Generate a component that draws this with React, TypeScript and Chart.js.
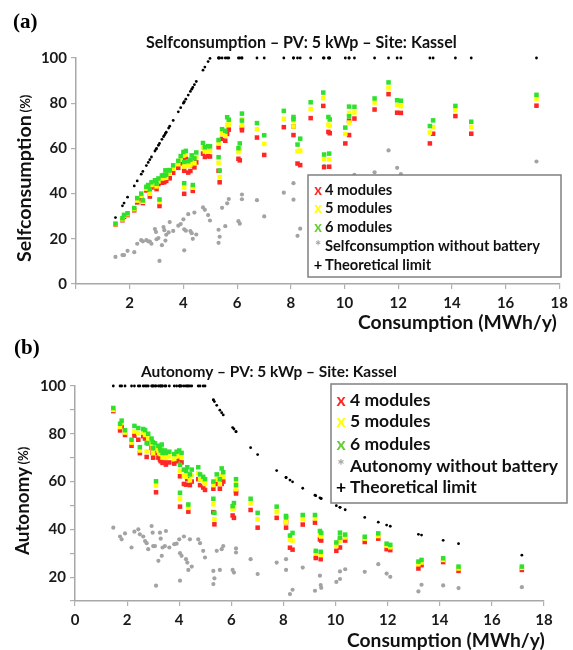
import React, { useEffect, useRef } from 'react';
import { Chart, registerables } from 'chart.js';

Chart.register(...registerables);

// ---------- DATA (one entry per household) ----------
const consumption = [
  1.47, 1.73, 1.79, 1.92, 2.17, 2.28, 2.43, 2.49, 2.62, 2.69,
  2.75, 2.81, 2.94, 2.98, 3.0, 3.07, 3.11, 3.2, 3.26, 3.29,
  3.33, 3.36, 3.45, 3.49, 3.62, 3.81, 3.9, 4.0, 4.03, 4.03,
  4.09, 4.18, 4.26, 4.31, 4.35, 4.41, 4.48, 4.73, 4.8, 4.92,
  4.99, 5.31, 5.35, 5.31, 5.44, 5.56, 5.63, 5.69, 6.05, 6.1,
  6.18, 6.18, 6.74, 7.01, 7.74, 8.1, 8.1, 8.25, 8.35, 8.74,
  9.21, 9.24, 9.4, 9.43, 9.45, 10.03, 10.17, 10.17, 10.37, 11.12,
  11.64, 11.96, 12.1, 13.18, 13.3, 14.13, 14.72, 17.15,
];

// Self-consumption (%)
const sc4 = [
  26.3, 28.2, 29.7, 30.5, 32.6, 36.1, 37.7, 35.8, 41.4, 42.0,
  38.7, 42.7, 43.5, 42.9, 42.0, 44.2, 34.5, 44.8, 45.1, 45.1,
  47.3, 45.6, 46.9, 46.8, 49.2, 51.4, 53.4, 55.6, 39.9, 50.1,
  55.6, 49.3, 50.0, 52.6, 41.2, 51.6, 53.8, 57.7, 56.2, 56.6,
  56.4, 50.1, 45.0, 60.5, 64.2, 63.4, 66.4, 68.3, 55.4, 54.7,
  69.2, 68.0, 64.8, 57.1, 69.4, 69.7, 65.9, 53.3, 52.6, 73.4,
  78.8, 51.7, 67.3, 51.9, 66.7, 62.2, 65.9, 72.2, 73.2, 77.2,
  84.0, 75.8, 75.7, 62.2, 66.5, 74.3, 66.5, 78.9,
];
const sc5 = [
  26.5, 28.6, 30.3, 30.9, 33.1, 36.9, 39.0, 36.4, 42.2, 42.8,
  39.9, 43.8, 44.7, 44.1, 43.2, 45.4, 36.3, 46.7, 46.9, 47.0,
  49.0, 47.0, 49.0, 48.9, 51.0, 53.0, 55.0, 56.8, 42.6, 52.0,
  57.3, 52.3, 52.8, 54.7, 42.6, 53.4, 56.0, 60.1, 58.6, 59.0,
  58.9, 53.6, 47.3, 62.1, 66.4, 65.6, 70.4, 70.6, 58.4, 59.8,
  72.9, 70.2, 68.5, 62.0, 73.1, 72.3, 69.7, 58.7, 59.0, 77.4,
  82.2, 55.4, 70.5, 55.1, 69.9, 66.4, 71.4, 75.7, 75.9, 80.3,
  86.6, 79.2, 78.7, 67.0, 69.4, 76.9, 69.5, 82.0,
];
const sc6 = [
  26.7, 29.1, 30.6, 31.3, 33.6, 38.0, 40.0, 37.0, 43.0, 43.8,
  41.9, 45.0, 45.9, 45.6, 44.4, 46.7, 37.4, 48.0, 48.2, 48.0,
  50.3, 48.4, 50.4, 50.3, 52.5, 54.5, 56.6, 58.4, 44.6, 54.0,
  58.9, 54.3, 55.0, 56.9, 43.8, 55.6, 58.2, 62.4, 60.5, 61.0,
  60.9, 56.1, 50.2, 63.7, 68.5, 67.8, 73.8, 72.7, 60.1, 62.2,
  75.4, 72.3, 71.2, 65.8, 76.6, 73.9, 72.9, 61.7, 64.3, 80.4,
  84.7, 57.3, 73.9, 57.7, 72.8, 69.2, 74.2, 78.5, 78.4, 82.1,
  89.2, 81.3, 81.1, 69.9, 72.4, 78.8, 71.8, 83.7,
];
const scNoBattery = [
  12.0, 12.8, 12.8, 14.7, 14.1, 17.8, 19.4, 18.9, 19.4, 18.9,
  18.8, 17.8, 24.3, 23.0, 19.8, 20.3, 10.2, 17.2, 25.2, 23.8,
  19.2, 21.8, 22.8, 27.4, 23.5, 25.8, 26.5, 28.6, 14.9, 24.2,
  23.6, 30.9, 23.4, 22.5, 20.0, 31.6, 21.9, 33.9, 32.8, 30.5,
  28.1, 24.0, 20.9, 18.2, 33.7, 25.6, 35.7, 37.6, 27.8, 26.7,
  39.6, 37.5, 37.1, 29.9, 40.4, 37.3, 44.6, 21.3, 24.5, 42.0,
  26.3, 52.3, 38.7, 31.5, 29.3, 36.1, 39.0, 45.6, 48.3, 49.4,
  59.1, 51.4, 48.6, 36.9, 44.7, 46.6, 45.3, 54.2,
];
const scLimit = [
  29.4, 34.6, 35.8, 38.4, 43.4, 45.6, 48.6, 49.8, 52.4, 53.8,
  55.0, 56.2, 58.8, 59.6, 60.0, 61.4, 62.2, 64.0, 65.2, 65.8,
  66.6, 67.2, 69.0, 69.8, 72.4, 76.2, 78.0, 80.0, 80.6, 80.6,
  81.8, 83.6, 85.2, 86.2, 87.0, 88.2, 89.6, 94.6, 96.0, 98.4,
  99.8, 100, 100, 100, 100, 100, 100, 100, 100, 100,
  100, 100, 100, 100, 100, 100, 100, 100, 100, 100,
  100, 100, 100, 100, 100, 100, 100, 100, 100, 100,
  100, 100, 100, 100, 100, 100, 100, 100,
];

// Autonomy (%)
const aut4 = [
  89.5, 81.4, 83.0, 79.5, 75.0, 79.2, 77.5, 71.9, 79.0, 78.0,
  70.3, 76.0, 74.0, 72.0, 70.0, 72.0, 55.5, 70.0, 69.2, 68.5,
  71.0, 67.8, 68.0, 67.1, 68.0, 67.5, 68.5, 69.5, 49.5, 62.2,
  68.0, 59.0, 58.7, 61.0, 47.4, 58.5, 60.0, 61.0, 58.5, 57.5,
  56.5, 47.2, 42.1, 57.0, 59.0, 57.0, 59.0, 60.0, 45.8, 44.8,
  56.0, 55.0, 48.1, 40.7, 44.8, 43.0, 40.7, 32.3, 31.5, 42.0,
  42.8, 28.0, 35.8, 27.5, 35.3, 31.0, 32.4, 35.5, 35.3, 34.7,
  36.1, 31.7, 31.3, 23.6, 25.0, 26.3, 22.6, 23.0,
];
const aut5 = [
  90.0, 82.8, 84.5, 80.5, 76.3, 81.0, 80.3, 73.0, 80.5, 79.5,
  72.6, 78.0, 76.0, 74.0, 72.0, 74.0, 58.3, 73.0, 72.0, 71.5,
  73.5, 70.0, 71.0, 70.0, 70.5, 69.5, 70.5, 71.0, 52.8, 64.5,
  70.0, 62.5, 62.0, 63.5, 49.0, 60.5, 62.5, 63.5, 61.0, 60.0,
  59.0, 50.5, 44.2, 58.5, 61.0, 59.0, 62.5, 62.0, 48.3, 49.0,
  59.0, 56.8, 50.8, 44.2, 47.2, 44.6, 43.0, 35.6, 35.3, 44.3,
  44.6, 30.0, 37.5, 29.2, 37.0, 33.1, 35.1, 37.2, 36.6, 36.1,
  37.2, 33.1, 32.5, 25.4, 26.1, 27.2, 23.6, 23.9,
];
const aut6 = [
  90.8, 84.2, 85.5, 81.5, 77.5, 83.3, 82.4, 74.4, 82.0, 81.5,
  76.1, 80.0, 78.0, 76.5, 74.0, 76.0, 60.1, 75.0, 74.0, 73.0,
  75.5, 72.0, 73.0, 72.0, 72.5, 71.5, 72.5, 73.0, 55.3, 67.0,
  72.0, 65.0, 64.5, 66.0, 50.4, 63.0, 65.0, 66.0, 63.0, 62.0,
  61.0, 52.8, 46.9, 60.0, 63.0, 61.0, 65.5, 63.9, 49.7, 51.0,
  61.0, 58.5, 52.8, 46.9, 49.5, 45.6, 45.0, 37.4, 38.5, 46.0,
  46.0, 31.0, 39.3, 30.6, 38.5, 34.5, 36.5, 38.6, 37.8, 36.9,
  38.3, 34.0, 33.5, 26.5, 27.2, 27.9, 24.4, 24.4,
];
const autNoBattery = [
  40.7, 37.0, 35.8, 38.3, 32.4, 39.0, 40.0, 37.9, 37.0, 35.1,
  34.2, 31.7, 41.4, 38.6, 33.0, 33.0, 16.4, 26.8, 38.6, 36.1,
  28.9, 32.4, 33.0, 39.3, 32.4, 33.8, 34.0, 35.8, 18.5, 30.0,
  28.9, 37.0, 27.5, 26.1, 23.0, 35.8, 24.4, 35.8, 34.2, 31.0,
  28.2, 22.6, 19.5, 17.1, 31.0, 23.0, 31.7, 33.0, 23.0, 21.9,
  32.0, 30.3, 27.5, 21.3, 26.1, 23.0, 27.5, 12.9, 14.7, 24.0,
  14.3, 28.3, 20.6, 16.7, 15.5, 18.0, 19.2, 22.4, 23.3, 22.2,
  25.4, 21.5, 20.1, 14.0, 16.8, 16.5, 15.4, 15.8,
];
const autLimit = [
  100, 100, 100, 100, 100, 100, 100, 100, 100, 100,
  100, 100, 100, 100, 100, 100, 100, 100, 100, 100,
  100, 100, 100, 100, 100, 100, 100, 100, 100, 100,
  100, 100, 100, 100, 100, 100, 100, 100, 100, 100,
  100, 94.2, 93.5, 94.2, 91.9, 89.9, 88.8, 87.9, 82.6, 82.0,
  80.9, 80.9, 74.2, 71.3, 64.6, 61.7, 61.7, 60.6, 59.9, 57.2,
  54.3, 54.1, 53.2, 53.0, 52.9, 49.9, 49.2, 49.2, 48.2, 45.0,
  43.0, 41.8, 41.3, 37.9, 37.6, 35.4, 34.0, 29.2,
];

const seriesLabelsA = ['4 modules', '5 modules', '6 modules', 'Selfconsumption without battery', 'Theoretical limit'];
const seriesLabelsB = ['4 modules', '5 modules', '6 modules', 'Autonomy without battery', 'Theoretical limit'];
const titleA = 'Selfconsumption – PV: 5 kWp – Site: Kassel';
const titleB = 'Autonomy – PV: 5 kWp – Site: Kassel';
const xAxisTitle = 'Consumption (MWh/y)';

// ---------- STYLE ----------
const RED = '#ff2626';
const YELLOW = '#ffff00';
const GREEN = '#2fe02f';
const GREEN_LEGEND = '#66cc33';
const GRAY = '#a3a3a3';
const FONT = 'Lato, "Open Sans", sans-serif';

const pts = (ys: (number | null)[]) =>
  consumption.map((x, i) => ({ x, y: ys[i] })).filter((p) => p.y !== null);

function makeDatasets(v4: number[], v5: number[], v6: number[], v0: number[], lim: number[], labels: string[]) {
  const base = { borderWidth: 0, clip: false as const };
  return [
    { ...base, label: labels[4], data: pts(lim), pointStyle: 'circle', pointRadius: 1.4, backgroundColor: '#000', borderColor: '#000', order: 0 },
    { ...base, label: labels[2], data: pts(v6), pointStyle: 'rect', pointRadius: 3.2, backgroundColor: GREEN, borderColor: GREEN, order: 1 },
    { ...base, label: labels[1], data: pts(v5), pointStyle: 'rect', pointRadius: 3.2, backgroundColor: YELLOW, borderColor: YELLOW, order: 2 },
    { ...base, label: labels[0], data: pts(v4), pointStyle: 'rect', pointRadius: 3.2, backgroundColor: RED, borderColor: RED, order: 3 },
    { ...base, label: labels[3], data: pts(v0), pointStyle: 'circle', pointRadius: 2.1, backgroundColor: GRAY, borderColor: GRAY, order: 4 },
  ];
}

function fitSize(ctx: CanvasRenderingContext2D, text: string, weight: string, width: number) {
  ctx.font = `${weight} 100px ${FONT}`;
  return (100 * width) / ctx.measureText(text).width;
}

function drawFitted(ctx: CanvasRenderingContext2D, text: string, left: number, cy: number, width: number, weight = 'bold') {
  const s = fitSize(ctx, text, weight, width);
  ctx.font = `${weight} ${s}px ${FONT}`;
  ctx.textAlign = 'left';
  ctx.textBaseline = 'middle';
  ctx.fillText(text, left, cy);
}

type Deco = {
  panel: string; panelX: number; panelY: number;
  title: string; titleX: number; titleY: number; titleW: number;
  yMain: string; yMainW: number; yX: number; yBottom: number;
  xTitleX: number; xTitleY: number; xTitleW: number;
  box: [number, number, number, number];
  rows: number[]; markX: number; textX: number; labels: string[]; legendW: number;
};

function decoPlugin(d: Deco) {
  return {
    id: 'deco',
    afterDraw(chart: any) {
      const ctx: CanvasRenderingContext2D = chart.ctx;
      ctx.save();
      ctx.fillStyle = '#000';
      // panel label
      ctx.font = 'bold 21px "Liberation Serif", "Times New Roman", serif';
      ctx.textAlign = 'left';
      ctx.textBaseline = 'middle';
      ctx.fillText(d.panel, d.panelX, d.panelY);
      // chart title
      ctx.fillStyle = '#111';
      drawFitted(ctx, d.title, d.titleX, d.titleY, d.titleW);
      // x axis title
      drawFitted(ctx, xAxisTitle, d.xTitleX, d.xTitleY, d.xTitleW);
      // y axis title (rotated)
      ctx.save();
      ctx.translate(d.yX, d.yBottom);
      ctx.rotate(-Math.PI / 2);
      const s1 = fitSize(ctx, d.yMain, 'bold', d.yMainW);
      ctx.font = `bold ${s1}px ${FONT}`;
      ctx.textAlign = 'left';
      ctx.textBaseline = 'middle';
      ctx.fillText(d.yMain, 0, 0);
      const w1 = ctx.measureText(d.yMain + ' ').width;
      ctx.font = `bold 13px ${FONT}`;
      ctx.fillText('(%)', w1 - 2, 1);
      ctx.restore();
      // legend box
      const [bx, by, bw, bh] = d.box;
      ctx.fillStyle = '#fff';
      ctx.fillRect(bx, by, bw, bh);
      ctx.strokeStyle = '#808080';
      ctx.lineWidth = 1.5;
      ctx.strokeRect(bx, by, bw, bh);
      const s = fitSize(ctx, d.labels[3], 'bold', d.legendW);
      const marks = [
        { m: 'x', c: RED }, { m: 'x', c: YELLOW }, { m: 'x', c: GREEN_LEGEND },
        { m: '*', c: GRAY }, { m: '+', c: '#000' },
      ];
      d.rows.forEach((y, i) => {
        ctx.font = `bold ${s}px ${FONT}`;
        ctx.textBaseline = 'middle';
        ctx.textAlign = 'center';
        ctx.fillStyle = marks[i].c;
        ctx.fillText(marks[i].m, d.markX, y);
        ctx.textAlign = 'left';
        ctx.fillStyle = '#111';
        ctx.fillText(d.labels[i], d.textX, y);
      });
      ctx.restore();
    },
  };
}

function axisCommon() {
  return {
    grid: { drawOnChartArea: false, drawTicks: true, tickLength: 5, color: '#b0b0b0', lineWidth: 1.2 },
    border: { display: true, color: '#a8a8a8', width: 1.5 },
  };
}

const tickFont = { family: FONT, weight: 'bold' as const, size: 15 };

// canvas geometry: A covers 0..340, B covers 330..650 (both transparent, overlapping)
const A_H = 340;
const B_TOP = 330;
const B_H = 320;

export default function App() {
  const refA = useRef<HTMLCanvasElement>(null);
  const refB = useRef<HTMLCanvasElement>(null);

  useEffect(() => {
    const chartA = new Chart(refA.current as HTMLCanvasElement, {
      type: 'scatter',
      data: { datasets: makeDatasets(sc4, sc5, sc6, scNoBattery, scLimit, seriesLabelsA) as any },
      options: {
        responsive: false,
        animation: false,
        devicePixelRatio: 1,
        events: [],
        layout: { padding: { left: 0, right: 12, top: 58, bottom: 0 } },
        plugins: { legend: { display: false }, tooltip: { enabled: false }, title: { display: false } },
        scales: {
          x: {
            type: 'linear', min: 0, max: 18,
            ...axisCommon(),
            ticks: { stepSize: 2, font: tickFont, color: '#1a1a1a', padding: 5, maxRotation: 0,
              callback: (v: any) => (v === 0 ? '' : String(v)) },
            afterFit: (s: any) => { s.height = A_H - 284; },
          },
          y: {
            type: 'linear', min: 0, max: 100,
            ...axisCommon(),
            ticks: { stepSize: 20, font: tickFont, color: '#1a1a1a', padding: 4 },
            afterFit: (s: any) => { s.width = 76; },
          },
        },
      },
      plugins: [decoPlugin({
        panel: '(a)', panelX: 13, panelY: 23,
        title: titleA, titleX: 146, titleY: 43, titleW: 311,
        yMain: 'Selfconsumption', yMainW: 147, yX: 25, yBottom: 262,
        xTitleX: 358, xTitleY: 323, xTitleW: 199,
        box: [308, 175, 253, 102], rows: [190, 208.5, 227, 246, 265],
        markX: 318, textX: 325, labels: seriesLabelsA, legendW: 215,
      })],
    });

    const bTop = 386 - B_TOP;
    const bBottom = 601 - B_TOP;
    const chartB = new Chart(refB.current as HTMLCanvasElement, {
      type: 'scatter',
      data: { datasets: makeDatasets(aut4, aut5, aut6, autNoBattery, autLimit, seriesLabelsB) as any },
      options: {
        responsive: false,
        animation: false,
        devicePixelRatio: 1,
        events: [],
        layout: { padding: { left: 0, right: 29, top: bTop, bottom: 0 } },
        plugins: { legend: { display: false }, tooltip: { enabled: false }, title: { display: false } },
        scales: {
          x: {
            type: 'linear', min: 0, max: 18,
            ...axisCommon(),
            ticks: { stepSize: 2, font: tickFont, color: '#1a1a1a', padding: 5, maxRotation: 0 },
            afterFit: (s: any) => { s.height = B_H - bBottom; },
          },
          y: {
            type: 'linear', min: 10, max: 100,
            ...axisCommon(),
            ticks: { stepSize: 10, font: tickFont, color: '#1a1a1a', padding: 4,
              callback: (v: any) => (Number(v) % 20 === 0 ? String(v) : '') },
            afterFit: (s: any) => { s.width = 75; },
          },
        },
      },
      plugins: [decoPlugin({
        panel: '(b)', panelX: 14, panelY: 349 - B_TOP,
        title: titleB, titleX: 141, titleY: 372.5 - B_TOP, titleW: 256,
        yMain: 'Autonomy', yMainW: 88, yX: 23, yBottom: 555 - B_TOP,
        xTitleX: 347, xTitleY: 641 - B_TOP, xTitleW: 198,
        box: [331, 384 - B_TOP, 236, 119],
        rows: [400, 421.7, 444, 466.7, 487].map((y) => y - B_TOP),
        markX: 341, textX: 350, labels: seriesLabelsB, legendW: 208,
      })],
    });

    return () => {
      chartA.destroy();
      chartB.destroy();
    };
  }, []);

  return (
    <div style={{ position: 'absolute', left: 0, top: 0, width: 573, height: 650, background: '#fff' }}>
      <canvas ref={refA} width={573} height={A_H} style={{ position: 'absolute', left: 0, top: 0 }} />
      <canvas ref={refB} width={573} height={B_H} style={{ position: 'absolute', left: 0, top: B_TOP }} />
    </div>
  );
}
